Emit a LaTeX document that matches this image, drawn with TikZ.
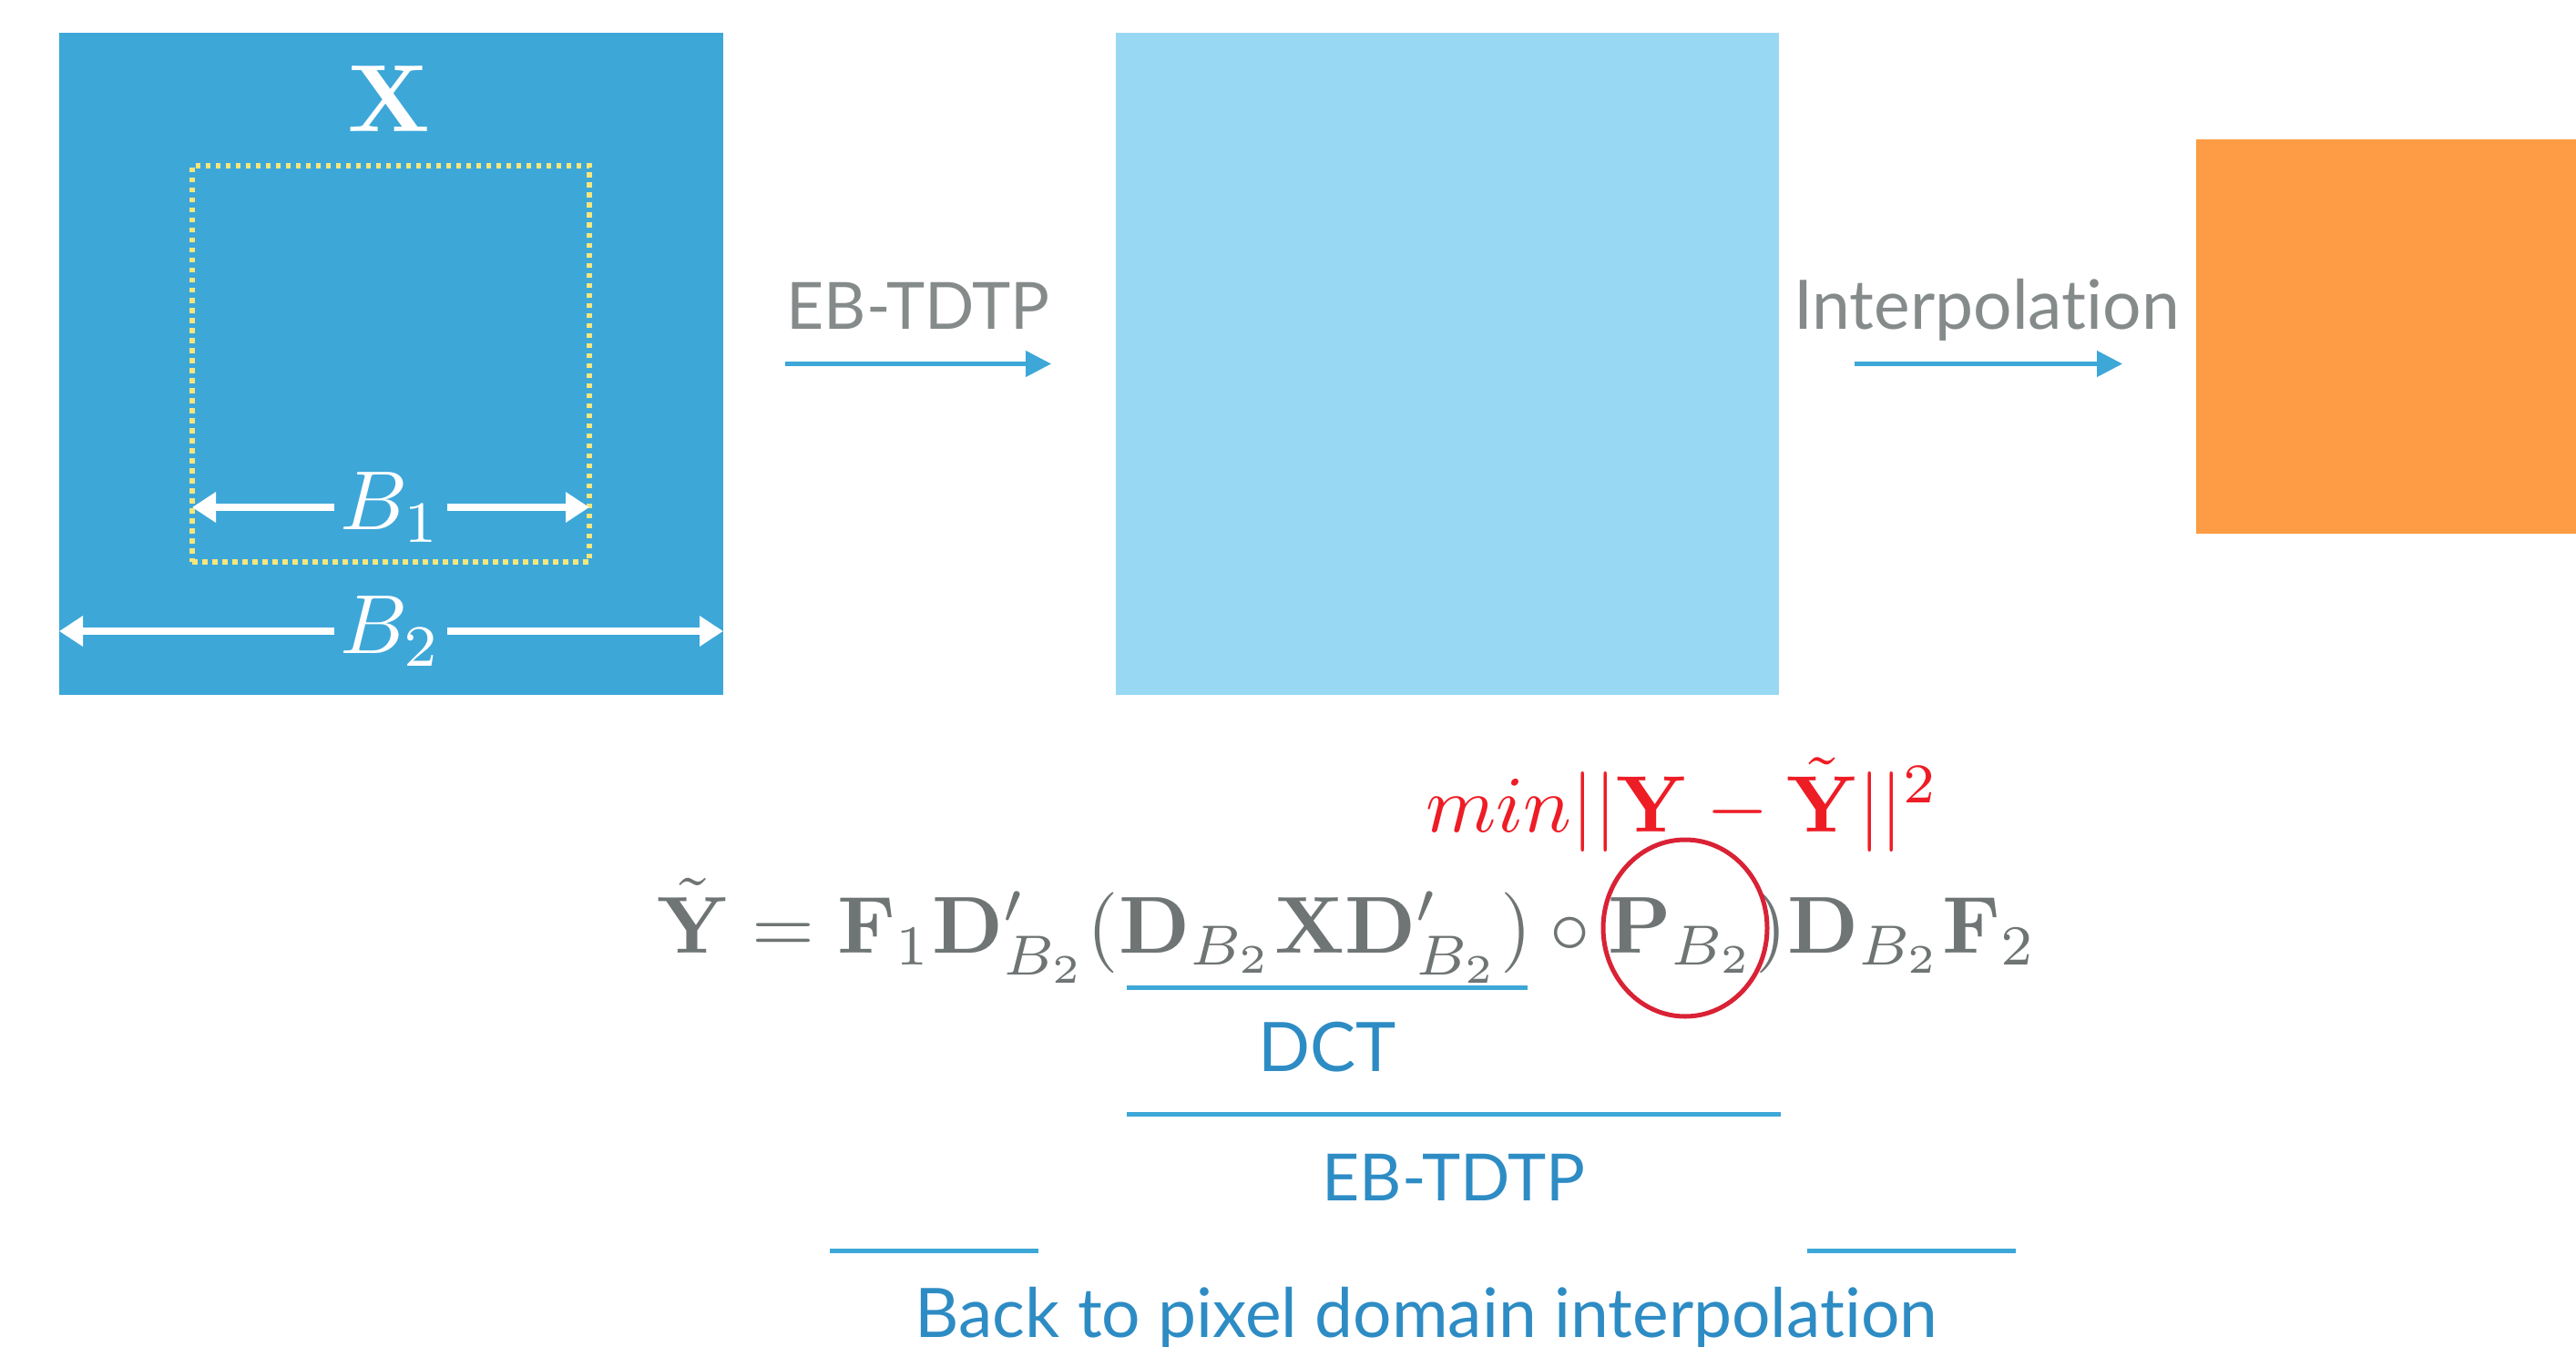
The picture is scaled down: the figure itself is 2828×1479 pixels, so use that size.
\documentclass[tikz,border=0pt]{standalone}
\usepackage[no-math]{fontspec}
\usepackage{graphicx}
\setmainfont{Lato}[Ligatures={NoCommon,NoRare}]
\usetikzlibrary{arrows.meta,shapes.geometric}
\definecolor{boxA}{HTML}{3DA7D8}
\definecolor{boxB}{HTML}{98D8F3}
\definecolor{boxC}{HTML}{FD9C44}
\definecolor{graytxt}{HTML}{858A8A}
\definecolor{eqgray}{HTML}{6F7474}
\definecolor{arrblue}{HTML}{3DA7D8}
\definecolor{txtblue}{HTML}{2E8CC4}
\definecolor{minred}{HTML}{EE1C25}
\definecolor{circred}{HTML}{D92235}
\definecolor{dotyel}{HTML}{F7E67C}
\newcommand\lblsize{\fontsize{75}{90}\selectfont}
\newcommand\ebsize{\fontsize{71.5}{86}\selectfont}
\begin{document}
\begin{tikzpicture}[x=1pt,y=-1pt,
  panel/.style={draw=none,inner sep=0pt,outer sep=0pt,anchor=north west},
  flow/.style={draw=arrblue,line width=4.5pt,-{Triangle[length=28pt,width=28pt]}},
  dim/.style={draw=white,line width=8pt,-{Triangle[length=26pt,width=32pt]}},
  uline/.style={draw=arrblue,line width=5pt},
  graylbl/.style={text=graytxt,font=\lblsize,inner sep=0pt,anchor=base},
  bluelbl/.style={text=txtblue,font=\lblsize,inner sep=0pt,anchor=base},
  dimlbl/.style={text=white,inner sep=0pt}]
\useasboundingbox (0,0) rectangle (2828,1479);
\fill[white] (0,0) rectangle (2828,1479);
% panels
\node[panel,fill=boxA,minimum width=729pt,minimum height=727pt] (box1) at (65,36) {};
\node[panel,fill=boxB,minimum width=728pt,minimum height=727pt] (box2) at (1225,36) {};
\node[panel,fill=boxC,minimum width=417pt,minimum height=433pt] (box3) at (2411,153) {};
% inner dotted square
\node[panel,draw=dotyel,line width=6pt,dash pattern=on 5.5pt off 5.5pt,minimum width=436pt,minimum height=435pt] (inner) at (211,182) {};
% X label
\node[text=white,inner sep=0pt] (xlab) at (427,108) {\scalebox{10.5}{$\mathbf{X}$}};
% B1
\node[dimlbl,minimum width=123pt] (b1) at (429,557) {\scalebox{9.2}{$B_1$}};
\coordinate (b1l) at (inner.west |- b1);
\coordinate (b1r) at (inner.east |- b1);
\draw[dim] (b1.west) -- (b1l);
\draw[dim] (b1.east) -- (b1r);
% B2
\node[dimlbl,minimum width=123pt] (b2) at (429,693) {\scalebox{9.2}{$B_2$}};
\coordinate (b2l) at (box1.west |- b2);
\coordinate (b2r) at (box1.east |- b2);
\draw[dim] (b2.west) -- (b2l);
\draw[dim] (b2.east) -- (b2r);
% top labels and arrows
\node[graylbl,font=\ebsize] (t1) at (1008,361) {EB-TDTP};
\node[graylbl] (t2) at (2181,361) {Interpolation};
\draw[flow,shorten <=68pt,shorten >=71pt] (box1.east) -- (box2.west);
\coordinate (a2e) at (box3.west |- box2.east);
\draw[flow,shorten <=83pt,shorten >=81pt] (box2.east) -- (a2e);
% equation
\node[text=eqgray,inner sep=0pt,anchor=base] (eq) at (1479,1046) {\resizebox{1515pt}{!}{$\tilde{\mathbf{Y}}=\mathbf{F}_1\mathbf{D}'_{B_2}(\mathbf{D}_{B_2}\mathbf{X}\mathbf{D}'_{B_2})\circ\mathbf{P}_{B_2})\mathbf{D}_{B_2}\mathbf{F}_2$}};
\node[text=minred,inner sep=0pt,anchor=base] (minexp) at (1847,913) {\resizebox{563pt}{!}{$min||\mathbf{Y}-\tilde{\mathbf{Y}}||^2$}};
\node[draw=circred,line width=5pt,ellipse,minimum width=180pt,minimum height=194pt,inner sep=0pt] (circ) at (1850,1019) {};
% underlines and labels
\draw[uline] (1237,1084) -- (1677,1084);
\node[bluelbl] (dct) at (1457,1176) {DCT};
\draw[uline] (1237,1223) -- (1955,1223);
\node[bluelbl,font=\ebsize] (ebt) at (1596,1318) {EB-TDTP};
\draw[uline] (911,1373) -- (1140,1373);
\draw[uline] (1984,1373) -- (2213,1373);
\node[bluelbl] (back) at (1566,1468) {Back to pixel domain interpolation};
\end{tikzpicture}
\end{document}
